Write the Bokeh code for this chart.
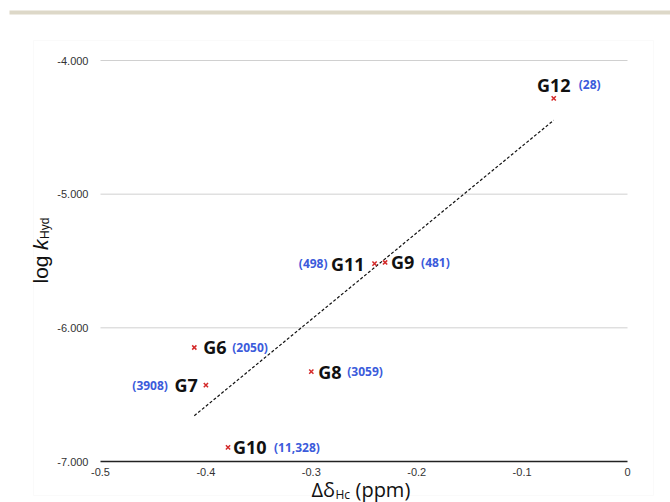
import numpy as np
from bokeh.plotting import figure
from bokeh.models import (Label, BoxAnnotation, FixedTicker, CustomJSTickFormatter,
                          NumeralTickFormatter)
from bokeh.core.properties import value
from bokeh.embed import file_html
from bokeh.resources import INLINE

# ---- data ----
names = ["G6", "G7", "G8", "G9", "G10", "G11", "G12"]
counts = ["(2050)", "(3908)", "(3059)", "(481)", "(11,328)", "(498)", "(28)"]
delta_hc = [-0.411, -0.400, -0.300, -0.230, -0.379, -0.240, -0.070]
log_khyd = [-6.147, -6.428, -6.327, -5.511, -6.895, -5.519, -4.284]

x_ticks = [-0.5, -0.4, -0.3, -0.2, -0.1, 0.0]
y_ticks = [-7, -6, -5, -4]

# ---- label layout (screen offsets in px, styles) ----
name_dx = [9, -8, 7, 6, 5, -10, 0]
name_dy = [0, 0, 0, 0, 0, 0, -13]
name_align = ["left", "right", "left", "left", "left", "right", "center"]
count_dx = [38, -38, 36, 36, 46, -47, 25]
count_dy = [0, 0, 0, 0, 0, 0, -14]
count_align = ["left", "right", "left", "left", "left", "right", "left"]

# ---- layout: the frame fills the canvas; axes sit at fixed locations ----
W, H = 670, 502
L, R, T, B = 100, 627, 60, 461          # pixel box of the data area
X0, X1, Y0, Y1 = -0.5, 0.0, -7.0, -4.0  # data area extent
sx = (R - L) / (X1 - X0)
sy = (B - T) / (Y1 - Y0)
xr = (X0 - L / sx, X0 + (W - L) / sx)
yr = (Y1 - (H - T) / sy, Y1 + T / sy)

p = figure(width=W, height=H, x_range=xr, y_range=yr,
           output_backend="svg", toolbar_location=None,
           min_border=0, min_border_left=0, min_border_right=0,
           min_border_top=0, min_border_bottom=0,
           background_fill_color="white", border_fill_color="white")
p.outline_line_color = None
p.xgrid.visible = False
p.ygrid.visible = False

# decorations (page bar and faint frame), canvas units
p.add_layout(BoxAnnotation(left=9, right=670, top=10, bottom=14,
                           left_units="canvas", right_units="canvas",
                           top_units="canvas", bottom_units="canvas",
                           fill_color="#ddd8c8", fill_alpha=1, line_color=None))
p.add_layout(BoxAnnotation(left=33, right=653, top=40, bottom=495,
                           left_units="canvas", right_units="canvas",
                           top_units="canvas", bottom_units="canvas",
                           fill_alpha=0, line_color="#f0f0f0", line_width=1))

# horizontal grid lines limited to the data area
gy = [t for t in y_ticks if t != Y0]
p.segment(x0=[X0] * len(gy), y0=gy, x1=[X1] * len(gy), y1=gy,
          line_color="#d0d0d0", line_width=1)
# x axis rule
p.segment(x0=[X0], y0=[Y0], x1=[X1], y1=[Y0], line_color="#222222", line_width=1.5)

# y axis (labels only)
yax = p.yaxis[0]
yax.fixed_location = X0
yax.ticker = FixedTicker(ticks=y_ticks)
yax.formatter = NumeralTickFormatter(format="0.000")
yax.axis_line_color = None
yax.major_tick_line_color = None
yax.minor_tick_line_color = None
yax.major_tick_out = 0
yax.major_tick_in = 0
yax.major_label_standoff = 12
yax.major_label_text_font = "Liberation Sans"
yax.major_label_text_font_size = "11px"
yax.major_label_text_color = "#333333"

# x axis (labels only; rule drawn above)
xax = p.xaxis[0]
xax.fixed_location = Y0
xax.ticker = FixedTicker(ticks=x_ticks)
xax.formatter = CustomJSTickFormatter(code="return Number(tick.toFixed(1)).toString();")
xax.axis_line_color = None
xax.major_tick_line_color = None
xax.minor_tick_line_color = None
xax.major_tick_out = 0
xax.major_tick_in = 0
xax.major_label_standoff = 6
xax.major_label_text_font = "Liberation Sans"
xax.major_label_text_font_size = "11px"
xax.major_label_text_color = "#333333"

# trend line (least squares fit over the data range)
slope, intercept = np.polyfit(delta_hc, log_khyd, 1)
tx = [min(delta_hc), max(delta_hc)]
ty = [slope * v + intercept for v in tx]
p.line(tx, ty, line_color="#111111", line_width=1.2, line_dash="3 2")

# points
p.scatter(delta_hc, log_khyd, marker="x", size=6, line_color="#d42a2a", line_width=1.5)

# point labels
for i in range(len(names)):
    p.text(x=[delta_hc[i]], y=[log_khyd[i]], text=[names[i]],
           x_offset=name_dx[i], y_offset=name_dy[i],
           text_align=name_align[i], text_baseline="middle",
           text_font=value("Open Sans"), text_font_size="18px",
           text_font_style="bold", text_color="#111111")
    p.text(x=[delta_hc[i]], y=[log_khyd[i]], text=[counts[i]],
           x_offset=count_dx[i], y_offset=count_dy[i],
           text_align=count_align[i], text_baseline="middle",
           text_font=value("Open Sans"), text_font_size="12px",
           text_font_style="bold", text_color="#3b5bdb")


def clabel(x, y, text, size, font, style="normal", angle=0.0):
    p.add_layout(Label(x=x, y=y, x_units="canvas", y_units="canvas", text=text,
                       angle=angle, text_align="left", text_baseline="alphabetic",
                       text_font=font, text_font_style=style,
                       text_font_size=size, text_color="#111111"))


# y axis title: log k_Hyd (rotated)
ang = np.pi / 2
clabel(40, 283, "log", "21px", "Liberation Sans", angle=ang)
clabel(40, 249.5, "k", "21px", "Liberation Sans", "italic", angle=ang)
clabel(44, 238.5, "Hyd", "12px", "Liberation Sans", angle=ang)

# x axis title: Δδ_Hc (ppm)
clabel(311, 489, "Δδ", "20px", "Open Sans")
clabel(335, 494, "Hc", "12px", "Open Sans")
clabel(355, 489, "(ppm)", "20px", "Open Sans")

open("out.html", "w").write(file_html(p, INLINE))
